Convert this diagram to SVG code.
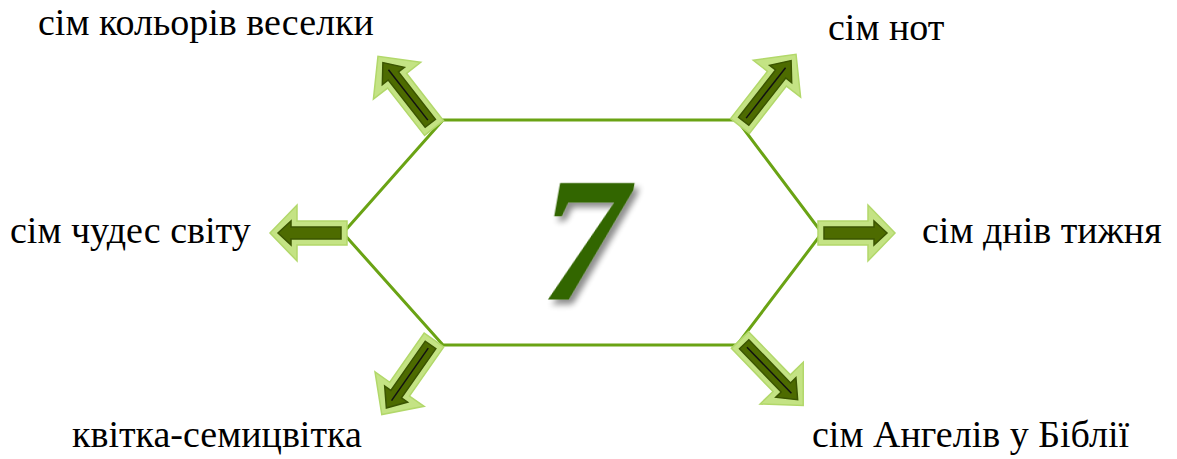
<svg xmlns="http://www.w3.org/2000/svg" width="1177" height="459" viewBox="0 0 1177 459">
<style>
.outer{fill:#c4e384;stroke:#b2d86a;stroke-width:1.5}
.inner{fill:#4d6b00;stroke:#3b5500;stroke-width:1.5}
.core{stroke:#111;stroke-width:1.5}
.hex{fill:none;stroke:#6aa314;stroke-width:3;stroke-linejoin:miter}
</style>
<defs>
<filter id="sh" x="-30%" y="-30%" width="160%" height="160%">
<feGaussianBlur in="SourceAlpha" stdDeviation="3"/>
<feOffset dx="5" dy="5" result="b"/>
<feComponentTransfer><feFuncA type="linear" slope="0.45"/></feComponentTransfer>
<feMerge><feMergeNode/><feMergeNode in="SourceGraphic"/></feMerge>
</filter>
<g id="arrD">
<polygon class="outer" points="0,-12 60,-12 60,-30 91,0 60,30 60,12 0,12"/>
<polygon class="inner" points="6,-6.5 66,-6.5 66,-14 83,0 66,14 66,6.5 6,6.5"/>
<line class="core" x1="10" y1="0" x2="74" y2="0"/>
</g>
<g id="arrH">
<polygon class="outer" points="0,-12 50,-12 50,-28 77,0 50,28 50,12 0,12"/>
<polygon class="inner" points="6,-6 56,-6 56,-12 69,0 56,12 56,6 6,6"/>
</g>
</defs>
<g id="hexagon">
<polygon class="hex" points="343,233 443,120 737,120 822,233 737,345 443,345"/>
</g>
<g id="connectors">
<use href="#arrD" transform="translate(434,128) rotate(-128)"/>
<use href="#arrD" transform="translate(740,126) rotate(-52)"/>
<use href="#arrH" transform="translate(347,233) rotate(180)"/>
<use href="#arrH" transform="translate(818,233)"/>
<use href="#arrD" transform="translate(434,340) rotate(125)"/>
<use href="#arrD" transform="translate(740,340) rotate(46)"/>
</g>
<g id="center">
<text transform="translate(574,299) skewX(-10)" x="0" y="0" text-anchor="middle" font-family="Liberation Serif, serif" font-size="178" font-weight="bold" fill="#336600" filter="url(#sh)">7</text>
</g>
<g font-family="Liberation Serif, serif" font-size="38" fill="#000">
<g id="n1"><text x="38" y="35">сім кольорів веселки</text></g>
<g id="n2"><text x="828" y="40">сім нот</text></g>
<g id="n3"><text x="10" y="243">сім чудес світу</text></g>
<g id="n4"><text x="922" y="243">сім днів тижня</text></g>
<g id="n5"><text x="72" y="447">квітка-семицвітка</text></g>
<g id="n6"><text x="812" y="447">сім Ангелів у Біблії</text></g>
</g>
</svg>
